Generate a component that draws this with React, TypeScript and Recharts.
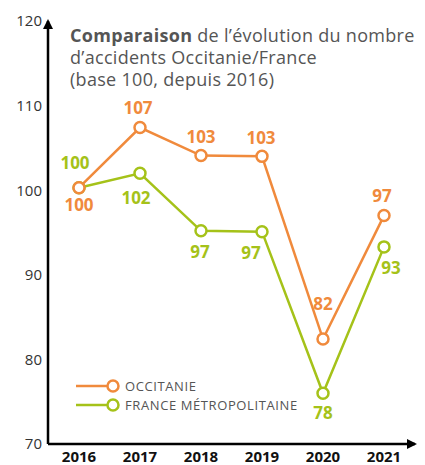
import React from 'react';
import { LineChart, Line, XAxis, YAxis, LabelList } from 'recharts';

const FONT = '"Open Sans", "Noto Sans", sans-serif';
const ORANGE = '#F08A3C';
const GREEN = '#A5C219';
const GREY = '#555';

// values as plotted (read from point positions) and the rounded labels printed next to them
const years = ['2016', '2017', '2018', '2019', '2020', '2021'];
const occitanie = [100.3, 107.4, 104.1, 104.0, 82.4, 97.0];
const occitanieLabels = ['100', '107', '103', '103', '82', '97'];
const france = [100.3, 102.0, 95.2, 95.1, 76.0, 93.3];
const franceLabels = ['100', '102', '97', '97', '78', '93'];
const yTicks = [70, 80, 90, 100, 110, 120];

const data = years.map((year, i) => ({
  year,
  occ: occitanie[i],
  occLabel: occitanieLabels[i],
  fr: france[i],
  frLabel: franceLabels[i],
}));

// label offsets from the point (dx, dy to text centre)
const OCC_POS = [[0, 17], [-2, -20], [0, -18], [-1, -18], [0, -35], [-2, -20]];
const FR_POS = [[-4, -25], [-4, 25], [-1, 21], [-11, 21], [0, 20], [7, 21]];

const makeLabel = (color: string, pos: number[][]) => (props: any) => {
  const { x, y, value, index } = props;
  const [dx, dy] = pos[index] || [0, -18];
  return (
    <text x={x + dx} y={y + dy} dy="0.35em" textAnchor="middle" fill={color}
      style={{ fontFamily: FONT, fontSize: 17, fontWeight: 700 }}>
      {value}
    </text>
  );
};

const LegendRow = ({ color, text }: { color: string; text: string }) => (
  <div style={{ display: 'flex', alignItems: 'center', height: 19 }}>
    <svg width={44} height={14}>
      <line x1={0} y1={7} x2={32} y2={7} stroke={color} strokeWidth={2.5} />
      <circle cx={37} cy={7} r={5.5} fill="#fff" stroke={color} strokeWidth={2.5} />
    </svg>
    <span style={{ marginLeft: 5, fontSize: 13, color: GREY, letterSpacing: 0.6 }}>{text}</span>
  </div>
);

export default function App() {
  return (
    <div style={{ position: 'absolute', left: 0, top: 0, width: 425, height: 465, background: '#fff', fontFamily: FONT }}>
      <svg width={0} height={0} style={{ position: 'absolute' }}>
        <defs>
          <marker id="arrow" viewBox="0 0 10 10" refX={8} refY={5} markerWidth={10} markerHeight={10}
            markerUnits="userSpaceOnUse" orient="auto-start-reverse">
            <path d="M0,0 L10,5 L0,10 z" fill="#000" />
          </marker>
        </defs>
      </svg>
      <LineChart width={425} height={465} data={data} margin={{ top: 21, right: 10, bottom: 0, left: 0 }}>
        <XAxis dataKey="year" height={21} tickLine={false} tickSize={6} tickMargin={1}
          padding={{ left: 31, right: 31 }}
          axisLine={{ stroke: '#000', strokeWidth: 2.5, markerEnd: 'url(#arrow)' } as any}
          tick={{ fill: '#111', fontSize: 15, fontWeight: 700, fontFamily: FONT }} />
        <YAxis width={48} domain={[70, 120]} ticks={yTicks} tickLine={false} tickSize={6} tickMargin={0}
          axisLine={{ stroke: '#000', strokeWidth: 2.5, markerStart: 'url(#arrow)' } as any}
          tick={{ fill: '#333', fontSize: 15, fontFamily: FONT }} />
        <Line dataKey="fr" stroke={GREEN} strokeWidth={2.5} isAnimationActive={false}
          dot={{ r: 5.5, fill: '#fff', stroke: GREEN, strokeWidth: 2.5 }}>
          <LabelList dataKey="frLabel" content={makeLabel(GREEN, FR_POS)} />
        </Line>
        <Line dataKey="occ" stroke={ORANGE} strokeWidth={2.5} isAnimationActive={false}
          dot={{ r: 5.5, fill: '#fff', stroke: ORANGE, strokeWidth: 2.5 }}>
          <LabelList dataKey="occLabel" content={makeLabel(ORANGE, OCC_POS)} />
        </Line>
      </LineChart>
      <div style={{ position: 'absolute', left: 70, top: 24, fontSize: 18, lineHeight: '22px', letterSpacing: 0.3, color: GREY, whiteSpace: 'nowrap' }}>
        <div><b>Comparaison</b> de l’évolution du nombre</div>
        <div>d’accidents Occitanie/France</div>
        <div>(base 100, depuis 2016)</div>
      </div>
      <div style={{ position: 'absolute', left: 76, top: 376 }}>
        <LegendRow color={ORANGE} text="OCCITANIE" />
        <LegendRow color={GREEN} text="FRANCE MÉTROPOLITAINE" />
      </div>
    </div>
  );
}
